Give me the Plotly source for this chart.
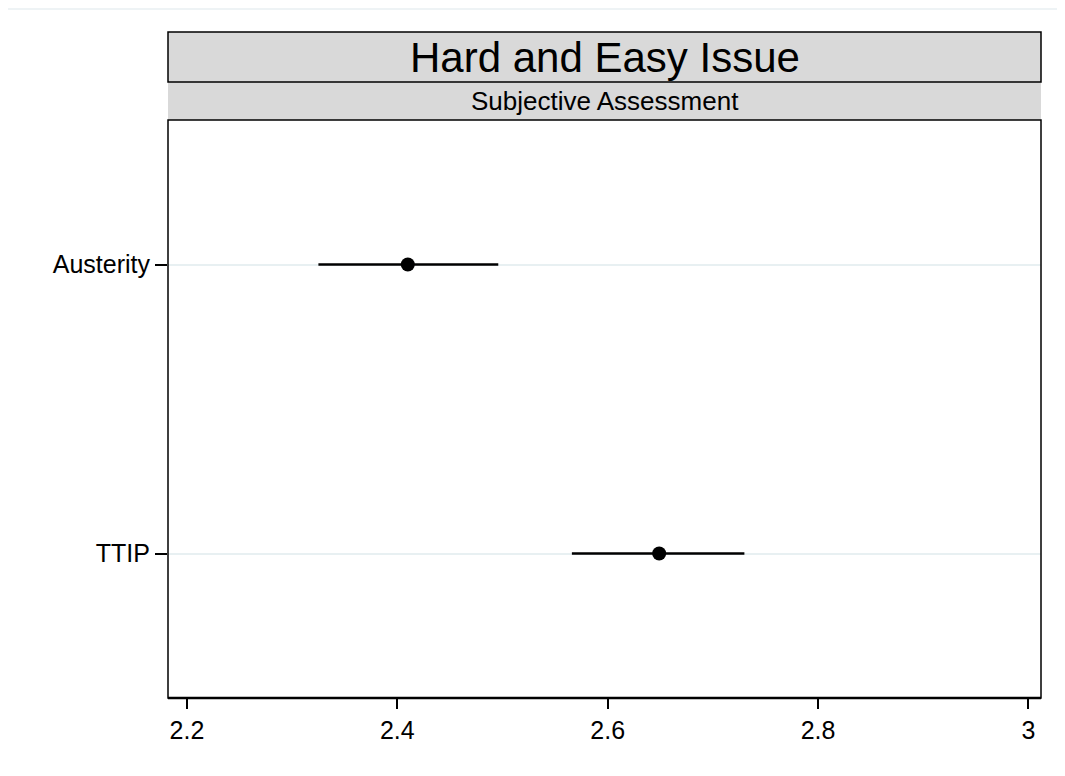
import plotly.graph_objects as go

categories = ["Austerity", "TTIP"]
estimates = [2.41, 2.649]
ci_low = [2.325, 2.566]
ci_high = [2.496, 2.730]
x_ticks = [2.2, 2.4, 2.6, 2.8, 3.0]
x_tick_labels = ["2.2", "2.4", "2.6", "2.8", "3"]
title_text = "Hard and Easy Issue"
subtitle_text = "Subjective Assessment"

ypos = list(range(1, len(categories) + 1))

fig = go.Figure()
fig.add_trace(go.Scatter(
    x=estimates, y=ypos, mode="markers",
    marker=dict(color="black", size=14),
    error_x=dict(type="data", symmetric=False,
                 array=[h - e for h, e in zip(ci_high, estimates)],
                 arrayminus=[e - l for e, l in zip(estimates, ci_low)],
                 color="black", thickness=2.5, width=0),
    showlegend=False,
))

OFF = 8  # page body margin
W, H = 1065 - OFF, 776 - OFF
L, R, T, B = 168 - OFF, 24, 120 - OFF, 78

fig.update_layout(
    width=W, height=H,
    margin=dict(l=L, r=R, t=T, b=B),
    paper_bgcolor="white", plot_bgcolor="white",
    font=dict(family="Arial, Liberation Sans, sans-serif", color="black", size=25),
    xaxis=dict(range=[2.182, 3.012], tickvals=x_ticks, ticktext=x_tick_labels,
               ticks="outside", ticklen=10, tickwidth=1.5, tickcolor="black",
               showgrid=False, zeroline=False, showline=False,
               tickfont=dict(size=25)),
    yaxis=dict(range=[2.5, 0.5], tickvals=ypos, ticktext=categories,
               ticks="outside", ticklen=12, tickwidth=1.5, tickcolor="black",
               showgrid=True, gridcolor="#e8f0f2", gridwidth=2,
               zeroline=False, showline=False, tickfont=dict(size=25)),
)

# plot border
fig.add_shape(type="rect", xref="paper", yref="paper", x0=0, x1=1, y0=0, y1=1,
              line=dict(color="black", width=1.5), fillcolor="rgba(0,0,0,0)")
# thicker bottom axis line
fig.add_shape(type="line", xref="paper", yref="paper", x0=0, x1=1, y0=0, y1=0,
              line=dict(color="black", width=2.5))

ph = H - T - B
def py(page_pix):
    return (H - B - (page_pix - OFF)) / ph

# subtitle strip
fig.add_shape(type="rect", xref="paper", yref="paper", x0=0, x1=1,
              y0=py(120), y1=py(82), fillcolor="#d9d9d9",
              line=dict(width=0), layer="below")
# title strip
fig.add_shape(type="rect", xref="paper", yref="paper", x0=0, x1=1,
              y0=py(82), y1=py(32), fillcolor="#d9d9d9",
              line=dict(color="black", width=1.5))
# faint outer top line
fig.add_shape(type="line", xref="paper", yref="paper",
              x0=-L / (W - L - R), x1=1 + R / (W - L - R),
              y0=py(9), y1=py(9), line=dict(color="#eef3f5", width=2))

fig.add_annotation(xref="paper", yref="paper", x=0.5, y=(py(82) + py(32)) / 2,
                   text=title_text, showarrow=False, font=dict(size=42),
                   xanchor="center", yanchor="middle")
fig.add_annotation(xref="paper", yref="paper", x=0.5, y=(py(120) + py(82)) / 2,
                   text=subtitle_text, showarrow=False, font=dict(size=26),
                   xanchor="center", yanchor="middle")

fig.write_html("out.html")
